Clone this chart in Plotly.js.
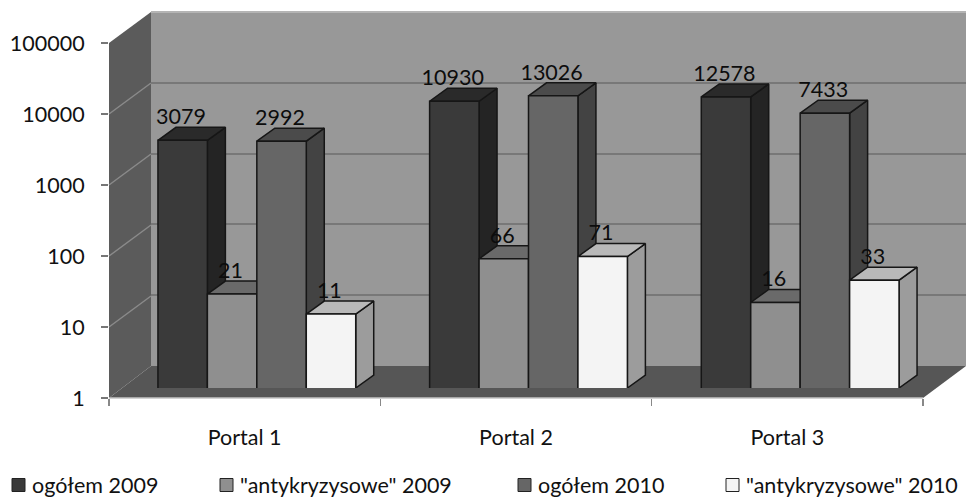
<!DOCTYPE html>
<html><head><meta charset="utf-8">
<script src="https://cdn.plot.ly/plotly-3.0.1.min.js"></script>
<style>html,body{margin:0;padding:0;background:#fff}#c{width:966px;height:497px}</style>
</head><body><div id="c"></div>
<script>
const categories = ['Portal 1', 'Portal 2', 'Portal 3'];
const seriesNames = ['ogółem 2009', '"antykryzysowe" 2009', 'ogółem 2010', '"antykryzysowe" 2010'];
const ogolem2009 = [3079, 10930, 12578];
const antykryzysowe2009 = [21, 66, 16];
const ogolem2010 = [2992, 13026, 7433];
const antykryzysowe2010 = [11, 71, 33];
const yTickVals = [1, 10, 100, 1000, 10000, 100000];
const yTickText = ['1', '10', '100', '1000', '10000', '100000'];
const frontColors = ['#3a3a3a', '#8f8f8f', '#666666', '#f4f4f4'];
const topColors = ['#2a2a2a', '#6a6a6a', '#4b4b4b', '#b9b9b9'];
const sideColors = ['#242424', '#5a5a5a', '#434343', '#9c9c9c'];

const W = 966, H = 497, FONT = 'Lato, sans-serif', TEXT = 21.5;
const allSeries = [ogolem2009, antykryzysowe2009, ogolem2010, antykryzysowe2010];
const px = x => x / W, py = y => (H - y) / H;
const depthPxX = 18, depthPxY = 13, catPx = 271.7, decadePx = 71;
const bargap = 0.272, barW = (1 - bargap) / 4;
const dx = depthPxX / catPx, k = Math.pow(10, depthPxY / decadePx);
const labelLift = Math.pow(10, 21.5 / decadePx), edge = '#161616';
const pos = categories.map((_, i) => i);
const traces = [];

// invisible carriers so that each axis pair exists
traces.push({type:'scatter', mode:'none', x:categories, y:[1,1,1], xaxis:'x', yaxis:'y', hoverinfo:'skip', showlegend:false});
traces.push({type:'scatter', mode:'none', x:[0,1], y:[1,1], xaxis:'x2', yaxis:'y2', hoverinfo:'skip', showlegend:false});

// depth faces (below the front faces)
allSeries.forEach((vals, s) => {
  vals.forEach((v, c) => {
    const l = pos[c] + (s - 2) * barW, r = l + barW;
    traces.push({type:'scatter', mode:'lines', x:[r, r+dx, r+dx, r, r], y:[1, k, v*k, v, 1],
      fill:'toself', fillcolor:sideColors[s], line:{color:edge, width:1.5}, xaxis:'x3', yaxis:'y3', hoverinfo:'skip', showlegend:false});
    traces.push({type:'scatter', mode:'lines', x:[l, l+dx, r+dx, r, l], y:[v, v*k, v*k, v, v],
      fill:'toself', fillcolor:topColors[s], line:{color:edge, width:1.5}, xaxis:'x3', yaxis:'y3', hoverinfo:'skip', showlegend:false});
  });
});

// front faces
allSeries.forEach((vals, s) => {
  traces.push({type:'bar', name:seriesNames[s], x:pos, y:vals, xaxis:'x4', yaxis:'y4',
    marker:{color:frontColors[s], line:{color:edge, width:1.5}}, showlegend:false});
});

// value labels
allSeries.forEach((vals, s) => {
  traces.push({type:'scatter', mode:'text', x:pos.map(c => c + (s - 1.5) * barW - 0.006), y:vals.map(v => v * labelLift),
    text:vals.map(String), textposition:'middle center', textfont:{family:FONT, size:TEXT, color:'#0c0c0c'},
    xaxis:'x4', yaxis:'y4', hoverinfo:'skip', showlegend:false, cliponaxis:false});
});

// frame
const poly = (pts, fill) => ({type:'path', xref:'paper', yref:'paper', layer:'below',
  path:'M' + pts.map(p => px(p[0]) + ',' + py(p[1])).join('L') + 'Z', fillcolor:fill, line:{width:0}});
const seg = (a, b, color, w) => ({type:'line', xref:'paper', yref:'paper', layer:'below',
  x0:px(a[0]), y0:py(a[1]), x1:px(b[0]), y1:py(b[1]), line:{color:color, width:w}});
const shapes = [
  poly([[151,12],[966,12],[966,366],[151,366]], '#989898'),
  poly([[109,43],[151,12],[151,366],[109,398]], '#5b5b5b'),
  poly([[109,398],[151,366],[966,366],[923,398]], '#565656'),
  seg([151,12],[966,12],'#b4b4b4',2),
  seg([109,398],[923,398],'#c4c4c4',1.5)
];
yTickVals.forEach((v, i) => {
  const y = 398 - i * decadePx;
  if (i > 0 && i < 5) shapes.push(seg([109, y], [151, y - 31], '#8a8a8a', 1.5));
});

// legend
const legendSquareX = [12, 220, 518, 726], legendTextX = [30, 238, 536, 744], legendY = 485;
const annotations = seriesNames.map((n, i) => ({xref:'paper', yref:'paper', x:px(legendTextX[i]), y:py(legendY),
  xanchor:'left', yanchor:'middle', text:n, showarrow:false, font:{family:FONT, size:TEXT, color:'#111'}}));
seriesNames.forEach((n, i) => shapes.push({type:'rect', xref:'paper', yref:'paper',
  x0:px(legendSquareX[i]), x1:px(legendSquareX[i] + 13), y0:py(legendY - 6.5), y1:py(legendY + 6.5),
  fillcolor:frontColors[i], line:{color:'#222', width:1}}));

const hidden = {showgrid:false, zeroline:false, showticklabels:false, ticks:'', showline:false};
const layout = {
  width:W, height:H, margin:{l:0, r:0, t:0, b:0, autoexpand:false},
  paper_bgcolor:'#fff', plot_bgcolor:'rgba(0,0,0,0)', showlegend:false,
  barmode:'group', bargap:bargap, bargroupgap:0, shapes:shapes, annotations:annotations,
  font:{family:FONT, color:'#111'},
  xaxis:{type:'category', domain:[px(109), px(923)], anchor:'y', categoryarray:categories, categoryorder:'array',
    range:[-0.5, 2.5], tickson:'boundaries', ticks:'outside', ticklen:7, tickwidth:1.5, tickcolor:'#888',
    showline:false, showgrid:false, zeroline:false, ticklabelstandoff:24, tickfont:{family:FONT, size:TEXT, color:'#111'}},
  yaxis:{type:'log', domain:[py(398), py(43)], anchor:'x', range:[0, 5], tickmode:'array', tickvals:yTickVals, ticktext:yTickText,
    ticks:'outside', ticklen:7, tickwidth:1.5, tickcolor:'#777', showgrid:false, zeroline:false, showline:false,
    ticklabelstandoff:12, tickfont:{family:FONT, size:TEXT, color:'#111'}},
  xaxis2:Object.assign({domain:[px(151), 1], range:[0, 1], anchor:'y2'}, hidden),
  yaxis2:{type:'log', domain:[py(366), py(12)], range:[0, 5], anchor:'x2', tickmode:'array', tickvals:yTickVals,
    showgrid:true, gridcolor:'#787878', gridwidth:2, zeroline:false, showticklabels:false, ticks:'', showline:false},
  xaxis3:Object.assign({domain:[px(121), px(936)], range:[-0.5, 2.5], anchor:'y3'}, hidden),
  yaxis3:Object.assign({type:'log', domain:[py(388), py(33)], range:[0, 5], anchor:'x3'}, hidden),
  xaxis4:Object.assign({domain:[px(121), px(936)], range:[-0.5, 2.5], anchor:'y4'}, hidden),
  yaxis4:Object.assign({type:'log', domain:[py(388), py(33)], range:[0, 5], anchor:'x4'}, hidden)
};
Plotly.newPlot('c', traces, layout, {displayModeBar:false, staticPlot:true});
</script></body></html>
